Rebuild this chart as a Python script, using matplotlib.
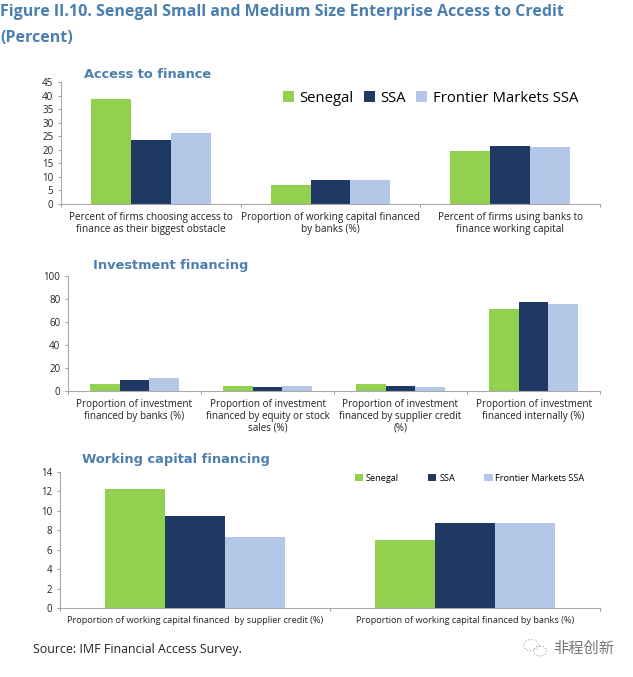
import matplotlib
matplotlib.use('Agg')
import matplotlib.pyplot as plt
import numpy as np
from matplotlib.patches import Ellipse

W, H = 633, 677
GREEN = '#92d050'
NAVY = '#1f3864'
LIGHT = '#b4c7e7'
TITLE = '#4a7fb0'
TEXT = '#222222'
series_names = ['Senegal', 'SSA', 'Frontier Markets SSA']

# panel 1
cats1 = ['Percent of firms choosing access to\nfinance as their biggest obstacle',
         'Proportion of working capital financed\nby banks (%)',
         'Percent of firms using banks to\nfinance working capital']
senegal1 = [38.6, 7.0, 19.5]
ssa1 = [23.7, 8.7, 21.5]
frontier1 = [26.2, 8.9, 21.1]
ticks1 = [0, 5, 10, 15, 20, 25, 30, 35, 40, 45]

# panel 2
cats2 = ['Proportion of investment\nfinanced by banks (%)',
         'Proportion of investment\nfinanced by equity or stock\nsales (%)',
         'Proportion of investment\nfinanced by supplier credit\n(%)',
         'Proportion of investment\nfinanced internally (%)']
senegal2 = [6.5, 4.0, 6.5, 71.5]
ssa2 = [10.0, 3.5, 4.0, 77.5]
frontier2 = [11.2, 4.3, 3.2, 75.5]
ticks2 = [0, 20, 40, 60, 80, 100]

# panel 3
cats3 = ['Proportion of working capital financed  by supplier credit (%)',
         'Proportion of working capital financed by banks (%)']
senegal3 = [12.3, 7.0]
ssa3 = [9.5, 8.8]
frontier3 = [7.3, 8.8]
ticks3 = [0, 2, 4, 6, 8, 10, 12, 14]

plt.rcParams['font.family'] = ['Open Sans', 'DejaVu Sans']

fig = plt.figure(figsize=(W / 100, H / 100), dpi=100)


def panel(left, right, top, bottom, cats, vals, ticks, gap, tsize, lsize):
    ax = fig.add_axes([left / W, 1 - bottom / H, (right - left) / W, (bottom - top) / H])
    x = np.arange(len(cats))
    bw = (1 / (1 + gap / 100)) / 3
    for i, (v, c) in enumerate(zip(vals, [GREEN, NAVY, LIGHT])):
        ax.bar(x + (i - 1) * bw, v, bw, color=c, label=series_names[i])
    ax.set_xlim(-0.5, len(cats) - 0.5)
    ax.set_ylim(ticks[0], ticks[-1])
    ax.set_yticks(ticks)
    ax.set_xticks(np.arange(len(cats) + 1) - 0.5)
    ax.set_xticklabels([])
    for i, c in enumerate(cats):
        ax.annotate(c, (i, 0), xycoords=('data', 'axes fraction'), xytext=(0, -6),
                    textcoords='offset points', ha='center', va='top',
                    fontsize=lsize, color=TEXT, linespacing=1.1)
    ax.tick_params(axis='y', labelsize=tsize, labelcolor=TEXT, length=2.5, width=0.7,
                   color='#999999', pad=3)
    ax.tick_params(axis='x', length=2.5, width=0.7, color='#999999')
    for s in ['top', 'right']:
        ax.spines[s].set_visible(False)
    for s in ['left', 'bottom']:
        ax.spines[s].set_color('#aaaaaa')
        ax.spines[s].set_linewidth(0.8)
    return ax


ax1 = panel(61, 600, 82, 204, cats1, [senegal1, ssa1, frontier1], ticks1, 50, 7, 7.2)
ax2 = panel(68, 600, 276, 391, cats2, [senegal2, ssa2, frontier2], ticks2, 50, 7, 7.1)
ax3 = panel(60, 600, 472, 608, cats3, [senegal3, ssa3, frontier3], ticks3, 50, 7, 6.6)

ax1.legend(loc='upper left', bbox_to_anchor=(0.412, 0.93), ncol=3, frameon=False,
           fontsize=10.7, handlelength=0.75, handleheight=0.75, handletextpad=0.35,
           columnspacing=0.7, borderpad=0, borderaxespad=0)
ax3.legend(loc='upper left', bbox_to_anchor=(0.546, 0.985), ncol=3, frameon=False,
           fontsize=6.6, handlelength=0.9, handleheight=0.8, handletextpad=0.3,
           columnspacing=3.2, borderpad=0, borderaxespad=0)

fig.text(0, 1 - 12 / H, 'Figure II.10. Senegal Small and Medium Size Enterprise Access to Credit',
         fontsize=11.5, fontweight='bold', color=TITLE, va='center')
fig.text(0, 1 - 38 / H, '(Percent)', fontsize=11.5, fontweight='bold', color=TITLE, va='center')

sub = ['DejaVu Sans']
fig.text(84 / W, 1 - 75 / H, 'Access to finance', fontsize=9.4, fontweight='bold', color=TITLE, va='center', family=sub)
fig.text(93 / W, 1 - 265 / H, 'Investment financing', fontsize=9.4, fontweight='bold', color=TITLE, va='center', family=sub)
fig.text(82 / W, 1 - 460 / H, 'Working capital financing', fontsize=9.4, fontweight='bold', color=TITLE, va='center', family=sub)

fig.text(33 / W, 1 - 650 / H, 'Source: IMF Financial Access Survey.', fontsize=8.9, color=TEXT, va='center')

# watermark
fig.text(553 / W, 1 - 648 / H, '非程创新', fontsize=11, color='#777777', va='center',
         family=['Noto Sans CJK SC', 'DejaVu Sans'])
bg = fig.add_axes([0, 0, 1, 1], facecolor='none')
bg.set_xlim(0, W)
bg.set_ylim(H, 0)
bg.axis('off')
bg.add_patch(Ellipse((531, 645), 15, 11, fc='none', ec='#aaaaaa', lw=0.8, ls=':'))
bg.add_patch(Ellipse((540, 651), 13, 10, fc='none', ec='#aaaaaa', lw=0.8, ls=':'))

fig.savefig('out.png', dpi=100)
